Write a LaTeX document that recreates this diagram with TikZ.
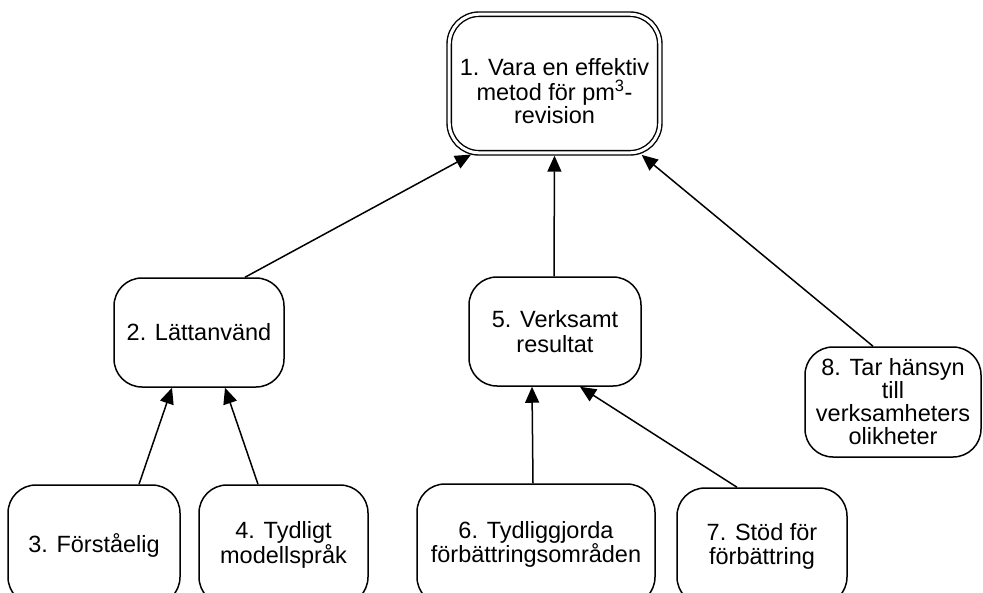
\documentclass[tikz,border=0pt]{standalone}
\usepackage{fontspec}
\setmainfont{Liberation Sans}
\usetikzlibrary{arrows.meta}

\tikzset{
  goaltext/.style={align=center, inner sep=0pt, font=\fontsize{23.5pt}{24.5pt}\selectfont},
  goal/.style={draw, line width=1.5pt, rounded corners=28pt, goaltext},
  topgoal/.style={goal, line width=1.4pt, double, double distance=3pt, rounded corners=30pt},
  link/.style={line width=1.5pt, -{Triangle[length=16pt,width=14pt]}},
}

\begin{document}
\begin{tikzpicture}[x=1pt, y=-1pt]
  \useasboundingbox (0,0) rectangle (983,592);
  \clip (0,0) rectangle (983,592);
  \fill[white] (0,0) rectangle (983,592);

  % top goal: double-bordered box with its text set a little below centre
  \node[topgoal, minimum width=210.6pt, minimum height=138.6pt] (n1) at (554.5,83.5) {};
  \node[goaltext] (t1) at ([yshift=-8pt]n1.center)
    {1. Vara en effektiv\\[0.5pt]metod för pm\textsuperscript{3}-\\[-1.5pt]revision};

  % sub-goals
  \node[goal, minimum width=170pt, minimum height=109pt] (n2) at (199,332.5) {2. Lättanvänd};
  \node[goal, minimum width=172pt, minimum height=109pt] (n5) at (555,331.5) {5. Verksamt\\resultat};
  \node[goal, minimum width=176pt, minimum height=110pt,
        font=\fontsize{23.5pt}{23pt}\selectfont] (n8) at (893,402)
    {8. Tar hänsyn\\till\\verksamheters\\olikheter};
  \node[goal, minimum width=172pt, minimum height=120pt] (n3) at (94,545) {3. Förståelig};
  \node[goal, minimum width=169pt, minimum height=120pt] (n4) at (283.5,545) {4. Tydligt\\modellspråk};
  \node[goal, minimum width=238pt, minimum height=121pt] (n6) at (536,544.5)
    {6. Tydliggjorda\\förbättringsområden};
  \node[goal, minimum width=170pt, minimum height=117pt] (n7) at (762,546.5) {7. Stöd för\\förbättring};

  % contribution links
  \draw[link, shorten >=2.2pt] ([xshift=46pt]n2.north) -- ([xshift=-81.5pt]n1.south);
  \draw[link, shorten >=2.2pt] ([xshift=-1pt]n5.north) -- (n1.south);
  \draw[link, shorten >=2.2pt] ([xshift=-20pt]n8.north) -- ([xshift=85.5pt]n1.south);
  \draw[link] ([xshift=45pt]n3.north) -- ([xshift=-27pt]n2.south);
  \draw[link] ([xshift=-25.5pt]n4.north) -- ([xshift=26pt]n2.south);
  \draw[link] ([xshift=-3pt]n6.north) -- ([xshift=-23pt]n5.south);
  \draw[link] ([xshift=-25pt]n7.north) -- ([xshift=25pt]n5.south);
\end{tikzpicture}
\end{document}
